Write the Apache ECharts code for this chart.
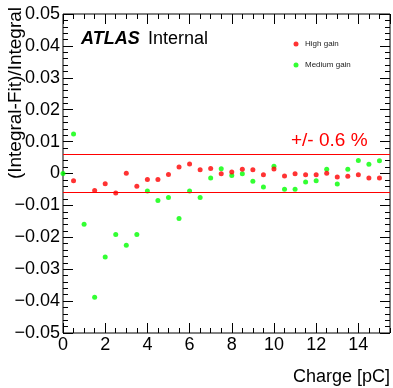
<!DOCTYPE html>
<html>
<head>
<meta charset="utf-8">
<script src="https://cdn.jsdelivr.net/npm/echarts@6/dist/echarts.min.js"></script>
<style>
  html, body { margin: 0; padding: 0; background: #fff; }
  #chart { width: 393px; height: 388px; }
</style>
</head>
<body>
<div id="chart"></div>
<script>
// Injected charge points [pC]
const charge = [0, 0.5, 1, 1.5, 2, 2.5, 3, 3.5, 4, 4.5, 5, 5.5, 6, 6.5, 7, 7.5,
                8, 8.5, 9, 9.5, 10, 10.5, 11, 11.5, 12, 12.5, 13, 13.5, 14, 14.5, 15];

// (Integral - Fit) / Integral for each gain
const highGain = [null, -0.0023, null, -0.0053, -0.0032, -0.0061, 0.0001, -0.0040,
                  -0.0019, -0.0019, -0.0003, 0.0020, 0.0030, 0.0012, 0.0016, -0.0001,
                  0.0005, 0.0013, 0.0012, -0.0004, 0.0014, -0.0008, -0.0001, -0.0004,
                  -0.0004, 0.0001, -0.0011, -0.0009, -0.0004, -0.0014, -0.0014];
const mediumGain = [0.0000, 0.0124, -0.0159, -0.0388, -0.0262, -0.0191, -0.0225, -0.0191,
                    -0.0055, -0.0085, -0.0075, -0.0141, -0.0055, -0.0075, -0.0014, 0.0015,
                    -0.0006, -0.0001, -0.0024, -0.0042, 0.0023, -0.0049, -0.0049, -0.0027,
                    -0.0023, 0.0013, -0.0033, 0.0013, 0.0041, 0.0029, 0.0040];

// +/- tolerance band
const bandLimits = [0.006, -0.006];

const seriesNames = ['High gain', 'Medium gain'];

const FONT = '"Liberation Sans", Helvetica, Arial, sans-serif';
const RED = '#ff0000';
const GREEN = '#00ff00';
const X_MIN = 0, X_MAX = 15.5;

const pairs = (xs, ys) => xs.map((x, i) => [x, ys[i]]).filter(p => p[1] !== null);

function yLabel(v) {
  if (Math.abs(v) < 1e-9) return '0';
  return (v < 0 ? '\u2212' : '') + Math.abs(v).toFixed(2);
}

const tickStyle = { color: '#000', width: 1 };

// Frame axes: ticks point inward on all four sides, no zero-crossing placement
const xBase = {
  type: 'value', min: X_MIN, max: X_MAX, gridIndex: 0,
  axisLine: { show: false, onZero: false }, splitLine: { show: false }
};
const yBase = {
  type: 'value', min: -0.05, max: 0.05, interval: 0.01, gridIndex: 0,
  axisLine: { show: false, onZero: false }, splitLine: { show: false },
  axisTick: { inside: true, length: 10, lineStyle: tickStyle },
  minorTick: { show: true, splitNumber: 5, length: 5, lineStyle: tickStyle }
};

const chart = echarts.init(document.getElementById('chart'), null, { renderer: 'canvas' });

chart.setOption({
  animation: false,
  backgroundColor: '#fff',
  grid: {
    left: 63, top: 14, width: 327, height: 319,
    show: true, borderColor: '#000', borderWidth: 1, backgroundColor: 'transparent'
  },
  xAxis: [
    Object.assign({}, xBase, {
      position: 'bottom', interval: 2,
      axisTick: { inside: true, length: 10, lineStyle: tickStyle },
      axisLabel: {
        margin: 3, fontSize: 18, color: '#000', fontFamily: FONT,
        showMaxLabel: false, formatter: v => String(v)
      }
    }),
    Object.assign({}, xBase, {
      position: 'bottom', interval: 0.5,
      axisTick: { inside: true, length: 5, lineStyle: tickStyle },
      axisLabel: { show: false }
    }),
    Object.assign({}, xBase, {
      position: 'top', interval: 2,
      axisTick: { inside: true, length: 10, lineStyle: tickStyle },
      axisLabel: { show: false }
    }),
    Object.assign({}, xBase, {
      position: 'top', interval: 0.5,
      axisTick: { inside: true, length: 5, lineStyle: tickStyle },
      axisLabel: { show: false }
    })
  ],
  yAxis: [
    Object.assign({}, yBase, {
      position: 'left',
      axisLabel: { margin: 3, fontSize: 18, color: '#000', fontFamily: FONT, formatter: yLabel }
    }),
    Object.assign({}, yBase, {
      position: 'right',
      axisLabel: { show: false }
    })
  ],
  legend: {
    data: seriesNames,
    orient: 'vertical',
    left: 293.5, top: 39, padding: 0,
    itemWidth: 5, itemHeight: 5, itemGap: 11,
    icon: 'circle',
    textStyle: { fontSize: 8, lineHeight: 10, color: '#222', fontFamily: FONT, padding: [0, 0, 0, 1.5] }
  },
  series: [
    {
      name: seriesNames[1], type: 'scatter', xAxisIndex: 0, yAxisIndex: 0,
      symbol: 'circle', symbolSize: 5,
      itemStyle: { color: GREEN },
      data: pairs(charge, mediumGain)
    },
    {
      name: seriesNames[0], type: 'scatter', xAxisIndex: 0, yAxisIndex: 0,
      symbol: 'circle', symbolSize: 5,
      itemStyle: { color: RED },
      data: pairs(charge, highGain),
      markLine: {
        silent: true, symbol: ['none', 'none'], animation: false,
        lineStyle: { color: RED, width: 1, type: 'solid', opacity: 1 },
        label: { show: false },
        emphasis: { disabled: true },
        data: bandLimits.map(v => [{ coord: [X_MIN, v] }, { coord: [X_MAX, v] }])
      }
    }
  ],
  graphic: [
    {
      type: 'text', x: 16, y: 7, rotation: Math.PI / 2,
      style: {
        text: '(Integral-Fit)/Integral', fontSize: 19, fontFamily: FONT,
        fill: '#000', align: 'right', verticalAlign: 'middle'
      }
    },
    {
      type: 'text', x: 390, y: 377,
      style: {
        text: 'Charge [pC]', fontSize: 18, fontFamily: FONT,
        fill: '#000', align: 'right', verticalAlign: 'middle'
      }
    },
    {
      type: 'text', x: 81, y: 39,
      style: {
        text: 'ATLAS', fontSize: 18, fontFamily: FONT, fontWeight: 'bold', fontStyle: 'italic',
        fill: '#000', align: 'left', verticalAlign: 'middle'
      }
    },
    {
      type: 'text', x: 148, y: 39,
      style: {
        text: 'Internal', fontSize: 18, fontFamily: FONT,
        fill: '#000', align: 'left', verticalAlign: 'middle'
      }
    },
    {
      type: 'text', x: 291, y: 141,
      style: {
        text: '+/- ' + (bandLimits[0] * 100).toFixed(1) + ' %', fontSize: 19, fontFamily: FONT,
        fill: RED, align: 'left', verticalAlign: 'middle'
      }
    }
  ]
});
</script>
</body>
</html>
